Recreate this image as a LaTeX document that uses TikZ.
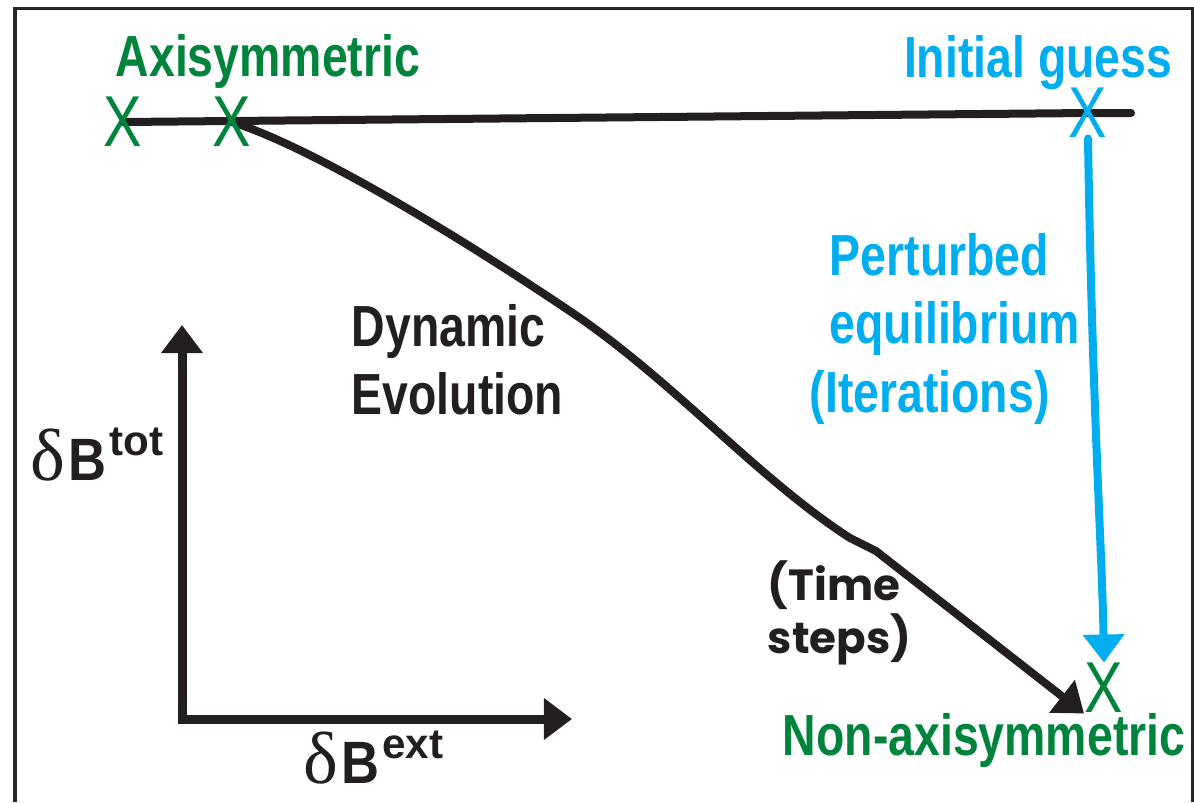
\documentclass[tikz,border=0pt]{standalone}
\usepackage{fontspec}
\setmainfont{Liberation Sans}
\newfontfamily\narrowsans{Liberation Sans}[FakeStretch=0.8]
\newfontfamily\labelsans{Liberation Sans}[FakeStretch=0.88]
\newfontfamily\deltafont{Liberation Serif}
\newfontfamily\roundsans{Poppins}
\usepackage{xcolor}
\usetikzlibrary{
    arrows.meta,
    positioning,
    backgrounds
}
\definecolor{axigreen}{RGB}{0,132,61}
\definecolor{iterblue}{RGB}{0,174,239}
\definecolor{inkblack}{RGB}{35,31,32}

% field symbol: serif delta, bold B, raised superscript
\newcommand{\fieldsym}[1]{%
    {\deltafont\mdseries\fontsize{21}{22}\selectfont δ}\kern0.03cm
    {\labelsans\bfseries B}\kern0.03cm
    \raisebox{0.25cm}{\rmfamily\bfseries\fontsize{12}{13}\selectfont #1}}

\begin{document}
\begin{tikzpicture}[
    x=0.01cm, y=-0.01cm,
    bigtext/.style={
        font=\narrowsans\bfseries\fontsize{16.5}{19.4}\selectfont,
        inner sep=0pt
    },
    xmark/.style={
        font=\narrowsans\fontsize{20.5}{24}\selectfont,
        inner sep=0pt
    },
    stepstext/.style={
        font=\roundsans\bfseries\fontsize{12.4}{15.1}\selectfont,
        inner sep=0pt,
        align=left
    },
    fieldlabel/.style={
        font=\fontsize{17}{20}\selectfont,
        inner sep=0pt
    },
    headed/.style={-{Triangle[length=0.28cm,width=0.4cm]}},
    thickline/.style={draw=inkblack, line width=0.08cm, line cap=round, line join=round}
]
\useasboundingbox (0,0) rectangle (1194,802);

% Frame
\draw[draw=black!85, line width=0.03cm] (15,802) -- (15,8) -- (1192,8) -- (1192,802);

% Labels
\node[bigtext, text=axigreen, anchor=base west] (axiText) at (115,76) {Axisymmetric};
\node[bigtext, text=iterblue, anchor=base east] (guessText) at (1173,77) {Initial guess};
\node[bigtext, text=axigreen, anchor=base east] (nonaxiText) at (1186,755) {Non-axisymmetric};
\node[bigtext, text=inkblack, align=left, anchor=north west] (dynText) at (351,304) {Dynamic\\Evolution};
\node[bigtext, text=iterblue, align=left, anchor=north west] (iterText) at (829,233)
    {Perturbed\\equilibrium\\\hspace*{-0.2cm}(Iterations)};
\node[stepstext, text=inkblack, anchor=north west] (stepsText) at (767,560) {(Time\\steps)};

% States
\node[xmark, text=axigreen] (axA) at (123,122) {X};
\node[xmark, text=axigreen] (axB) at (232,122) {X};
\node[xmark, text=iterblue] (guess) at (1088,113) {X};
\node[xmark, text=axigreen] (nonaxi) at (1104,688) {X};

% Axes
\coordinate (origin) at (182,719);
\coordinate (yTip) at (182,325);
\coordinate (xTip) at (572,719);
\coordinate (lineEnd) at (1131,113);

\node[fieldlabel, text=inkblack, anchor=base west] (totLabel) at (30,480) {\fieldsym{tot}};
\node[fieldlabel, text=inkblack, anchor=base west] (extLabel) at (303,783) {\fieldsym{ext}};

\begin{scope}[on background layer]
    % Axisymmetric branch
    \draw[thickline] (axA.center) -- (guess.center) -- (lineEnd);
    % Dynamic evolution
    \draw[thickline, headed] (axB.center) .. controls (320,150) and (480,250) .. (580,318)
        .. controls (680,388) and (760,480) .. (850,538) -- (876,551) -- (nonaxi.south west);
    % Iterations
    \draw[draw=iterblue, line width=0.08cm, line cap=round, headed]
        (guess.south) .. controls (1092,400) and (1102,550) .. (nonaxi.north);
    % Axes
    \draw[draw=inkblack, line width=0.09cm,
        {Triangle[length=0.28cm,width=0.4cm]}-{Triangle[length=0.28cm,width=0.4cm]}]
        (yTip) -- (origin) -- (xTip);
\end{scope}

\end{tikzpicture}
\end{document}
